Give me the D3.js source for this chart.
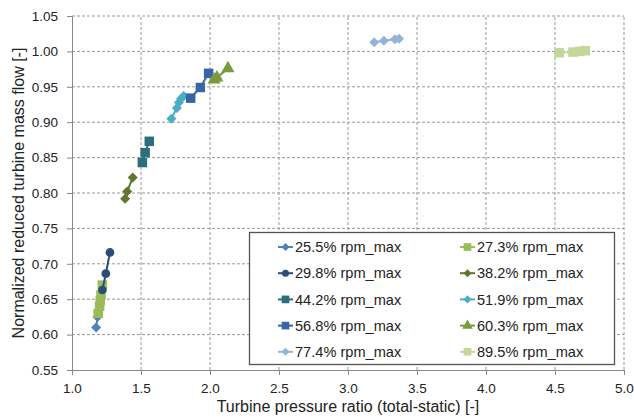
<!DOCTYPE html>
<html>
<head>
<meta charset="utf-8">
<script src="https://cdn.jsdelivr.net/npm/d3@7"></script>
<style>
  body { margin: 0; background: #fff; }
  svg text { font-family: "Liberation Sans", Arial, sans-serif; fill: #222; }
</style>
</head>
<body>
<script>
// series labels and values
const seriesNames = ["25.5% rpm_max", "27.3% rpm_max", "29.8% rpm_max", "38.2% rpm_max",
  "44.2% rpm_max", "51.9% rpm_max", "56.8% rpm_max", "60.3% rpm_max",
  "77.4% rpm_max", "89.5% rpm_max"];
const seriesColors = ["#4F81BD", "#9BBB59", "#2C4D75", "#5F7530", "#2B6E7E",
  "#4BACC6", "#3865A6", "#7A9B3D", "#95B3D7", "#C3D69B"];
const seriesShapes = ["diamond", "square", "circle", "diamond", "square",
  "diamond", "square", "triangle", "diamond", "square"];

const pr255 = [1.175, 1.185, 1.19];        const mf255 = [0.610, 0.625, 0.632];
const pr273 = [1.19, 1.20, 1.205, 1.21, 1.22]; const mf273 = [0.630, 0.640, 0.648, 0.656, 0.670];
const pr298 = [1.22, 1.245, 1.275];        const mf298 = [0.663, 0.686, 0.716];
const pr382 = [1.385, 1.40, 1.44];         const mf382 = [0.792, 0.802, 0.822];
const pr442 = [1.51, 1.53, 1.56];          const mf442 = [0.843, 0.857, 0.873];
const pr519 = [1.72, 1.76, 1.775, 1.79, 1.81]; const mf519 = [0.905, 0.920, 0.928, 0.933, 0.937];
const pr568 = [1.86, 1.93, 1.99];          const mf568 = [0.934, 0.949, 0.969];
const pr603 = [2.03, 2.05, 2.13];          const mf603 = [0.960, 0.963, 0.976];
const pr774 = [3.19, 3.26, 3.34, 3.37];    const mf774 = [1.013, 1.015, 1.017, 1.018];
const pr895 = [4.53, 4.63, 4.68, 4.72];    const mf895 = [0.998, 0.999, 1.000, 1.001];

const xs = [pr255, pr273, pr298, pr382, pr442, pr519, pr568, pr603, pr774, pr895];
const ys = [mf255, mf273, mf298, mf382, mf442, mf519, mf568, mf603, mf774, mf895];

const xTicks = [1.0, 1.5, 2.0, 2.5, 3.0, 3.5, 4.0, 4.5, 5.0];
const yTicks = [0.55, 0.60, 0.65, 0.70, 0.75, 0.80, 0.85, 0.90, 0.95, 1.00, 1.05];

const width = 634, height = 420;
const margin = { left: 72, right: 10, top: 16, bottom: 50 };

const series = seriesNames.map((name, i) => ({
  name,
  color: seriesColors[i],
  shape: seriesShapes[i],
  points: xs[i].map((x, j) => ({ x, y: ys[i][j] }))
}));

const svg = d3.select("body").append("svg")
  .attr("width", width)
  .attr("height", height);

const x = d3.scaleLinear().domain([1.0, 5.0]).range([margin.left, width - margin.right]);
const y = d3.scaleLinear().domain([0.55, 1.05]).range([height - margin.bottom, margin.top]);

// grid
svg.append("g").selectAll("line.v")
  .data(xTicks.slice(1))
  .join("line")
  .attr("x1", d => x(d)).attr("x2", d => x(d))
  .attr("y1", y(0.55)).attr("y2", y(1.05))
  .attr("stroke", "#999").attr("stroke-dasharray", "3,2");
svg.append("g").selectAll("line.h")
  .data(yTicks.slice(1))
  .join("line")
  .attr("x1", x(1.0)).attr("x2", x(5.0))
  .attr("y1", d => y(d)).attr("y2", d => y(d))
  .attr("stroke", "#999").attr("stroke-dasharray", "3,2");

// axes
const xAxis = svg.append("g")
  .attr("transform", `translate(0,${y(0.55)})`)
  .call(d3.axisBottom(x).tickValues(xTicks).tickFormat(d3.format(".1f")).tickSize(5).tickPadding(8));
const yAxis = svg.append("g")
  .attr("transform", `translate(${x(1.0)},0)`)
  .call(d3.axisLeft(y).tickValues(yTicks).tickFormat(d3.format(".2f")).tickSize(5).tickPadding(9));
[xAxis, yAxis].forEach(a => {
  a.select(".domain").attr("stroke", "#888");
  a.selectAll(".tick line").attr("stroke", "#888");
  a.selectAll("text").style("font-size", "13.5px").attr("fill", "#222");
});

svg.append("text")
  .attr("x", (x(1.0) + x(5.0)) / 2)
  .attr("y", 412)
  .attr("text-anchor", "middle")
  .style("font-size", "16px")
  .text("Turbine pressure ratio (total-static) [-]");
svg.append("text")
  .attr("transform", `translate(24,${(y(0.55) + y(1.05)) / 2}) rotate(-90)`)
  .attr("text-anchor", "middle")
  .style("font-size", "16px")
  .text("Normalized reduced turbine mass flow [-]");

const symbolFor = {
  diamond: d3.symbolSquare,
  square: d3.symbolSquare,
  circle: d3.symbolCircle,
  triangle: d3.symbolTriangle
};
const sizeFor = { diamond: 50, square: 90, circle: 60, triangle: 75 };
const marker = (s, k = 1) => d3.symbol().type(symbolFor[s]).size(sizeFor[s] * k);
const rot = s => s === "diamond" ? " rotate(45)" : "";

const line = d3.line().x(d => x(d.x)).y(d => y(d.y));

const plot = svg.append("g");
series.forEach(s => {
  const g = plot.append("g");
  g.append("path")
    .attr("d", line(s.points))
    .attr("fill", "none")
    .attr("stroke", s.color)
    .attr("stroke-width", 2);
  g.selectAll("path.m")
    .data(s.points)
    .join("path")
    .attr("class", "m")
    .attr("d", marker(s.shape))
    .attr("transform", d => `translate(${x(d.x)},${y(d.y)})${rot(s.shape)}`)
    .attr("fill", s.color);
});

// legend
const lg = svg.append("g").attr("transform", "translate(249.5,232.5)");
lg.append("rect")
  .attr("width", 365).attr("height", 132)
  .attr("fill", "#fff").attr("stroke", "#555").attr("stroke-width", 1.3);
series.forEach((s, i) => {
  const col = i % 2, row = Math.floor(i / 2);
  const g = lg.append("g").attr("transform", `translate(${28.5 + col * 182},${14.5 + row * 26.2})`);
  g.append("line").attr("x1", 0).attr("x2", 15).attr("stroke", s.color).attr("stroke-width", 2);
  g.append("path")
    .attr("d", marker(s.shape, 0.65))
    .attr("transform", `translate(7.5,0)${rot(s.shape)}`)
    .attr("fill", s.color);
  g.append("text")
    .attr("x", 17).attr("y", 5.2)
    .style("font-size", "14.6px")
    .text(s.name);
});
</script>
</body>
</html>
